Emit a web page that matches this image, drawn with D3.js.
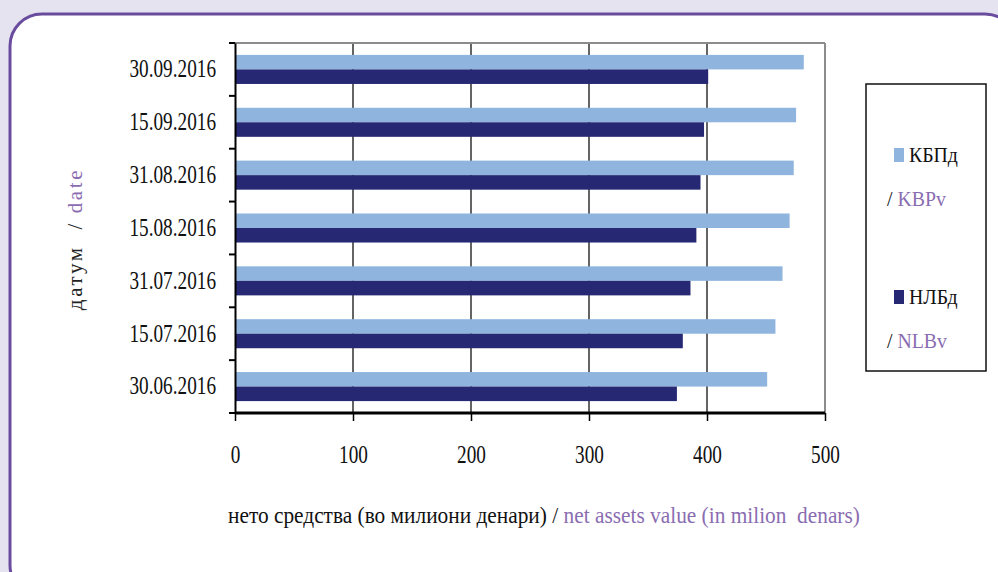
<!DOCTYPE html>
<html><head><meta charset="utf-8">
<script src="https://cdn.jsdelivr.net/npm/d3@7"></script>
<style>
html,body{margin:0;padding:0;background:#e6e3f0;}
svg{display:block;}
text{white-space:pre;}
</style></head>
<body>
<svg id="chart" width="998" height="572"></svg>
<script>
// ---- data ----
const categories = ["30.06.2016","15.07.2016","31.07.2016","15.08.2016","31.08.2016","15.09.2016","30.09.2016"];
const seriesNames = ["КБПд","НЛБд"];
const seriesNamesEn = ["KBPv","NLBv"];
const kbpValues = [451, 458, 464, 470, 473.5, 475.5, 482];
const nlbValues = [374.5, 379.5, 386, 391, 394.5, 397.5, 401];
const xTicks = [0,100,200,300,400,500];

const colors = ["#8fb4de","#262873"];
const purple = "#8a6db1";
const SX = 0.74; // horizontal condensation for serif tick text
const SXT = 0.89; // for axis title
const SXL = 0.9;  // for legend

const svg = d3.select("#chart");

// background panel with rounded border
svg.append("rect").attr("x",0).attr("y",0).attr("width",998).attr("height",572).attr("fill","#e6e3f0");
svg.append("rect").attr("x",10).attr("y",14).attr("width",1007).attr("height",583)
  .attr("rx",32).attr("ry",32).attr("fill","#ffffff").attr("stroke","#6a4c9f").attr("stroke-width",3);

const m = {left:235, right:825, top:43, bottom:413};
const x = d3.scaleLinear().domain([0,500]).range([m.left, m.right]);
const y = d3.scaleBand().domain(categories.slice().reverse()).range([m.top, m.bottom]).padding(0);
const sub = d3.scaleBand().domain(seriesNames).range([0, y.bandwidth()]).paddingInner(0).paddingOuter(0.82);

const rows = categories.map((c,i)=>({cat:c, vals:[kbpValues[i], nlbValues[i]]}));

// gridlines
svg.append("g").selectAll("line").data(xTicks.filter(t=>t>0 && t<500)).join("line")
  .attr("x1",d=>x(d)).attr("x2",d=>x(d)).attr("y1",m.top).attr("y2",m.bottom)
  .attr("stroke","#111").attr("stroke-width",1.3);
// plot border top/right (grey)
svg.append("line").attr("x1",x(0)).attr("x2",x(500)).attr("y1",m.top).attr("y2",m.top).attr("stroke","#8c8c8c").attr("stroke-width",2);
svg.append("line").attr("x1",x(500)).attr("x2",x(500)).attr("y1",m.top).attr("y2",m.bottom).attr("stroke","#8c8c8c").attr("stroke-width",2);

// bars
const g = svg.append("g").selectAll("g").data(rows).join("g")
  .attr("transform",d=>`translate(0,${y(d.cat)})`);
g.selectAll("rect").data(d=>d.vals.map((v,j)=>({v, s:seriesNames[j], j}))).join("rect")
  .attr("x",x(0)).attr("y",d=>sub(d.s)).attr("height",sub.bandwidth())
  .attr("width",d=>x(d.v)-x(0)).attr("fill",d=>colors[d.j]);

function condense(sel, s){
  sel.each(function(){
    const t = d3.select(this);
    const xx = +t.attr("x") || 0;
    t.attr("x", xx/s).attr("transform", `scale(${s},1)`);
  });
}

// y axis
const yAxis = svg.append("g").attr("transform",`translate(${m.left},0)`)
  .call(d3.axisLeft(y).tickSize(0).tickPadding(19));
yAxis.select(".domain").attr("stroke","#000").attr("stroke-width",2);
yAxis.selectAll("text").attr("font-family","'Liberation Serif', serif").attr("font-size",26).attr("fill","#111").attr("dy","0.3em");
condense(yAxis.selectAll("text"), SX);
// y boundary ticks
const bounds = y.domain().map(c=>y(c)).concat([y(y.domain()[y.domain().length-1])+y.bandwidth()]);
svg.append("g").selectAll("line").data(bounds).join("line")
  .attr("x1",m.left-6).attr("x2",m.left).attr("y1",d=>d).attr("y2",d=>d)
  .attr("stroke","#000").attr("stroke-width",2);

// x axis
const xAxis = svg.append("g").attr("transform",`translate(0,${m.bottom})`)
  .call(d3.axisBottom(x).tickValues(xTicks).tickSize(8).tickFormat(d3.format("d")));
xAxis.select(".domain").attr("stroke","#000").attr("stroke-width",3).attr("d",`M${m.left},0H${m.right}`);
xAxis.selectAll(".tick line").attr("stroke","#000").attr("stroke-width",1.5);
xAxis.selectAll("text").attr("font-family","'Liberation Serif', serif").attr("font-size",26).attr("fill","#111")
  .attr("y",42).attr("dy","0.32em");
condense(xAxis.selectAll("text"), SX);

// x axis title
const xt = svg.append("text").attr("x",228/SXT).attr("y",523).attr("transform",`scale(${SXT},1)`)
  .attr("font-family","'Liberation Serif', serif").attr("font-size",24).attr("fill","#111");
xt.append("tspan").text("нето средства (во милиони денари) / ");
xt.append("tspan").attr("fill",purple).text("net assets value (in milion  denars)");

// y axis title
const yt = svg.append("text").attr("transform","translate(82,239) rotate(-90)").attr("text-anchor","middle")
  .attr("font-family","'Liberation Serif', serif").attr("font-size",21).attr("letter-spacing",2.6).attr("fill","#222");
yt.append("tspan").text("датум  / ");
yt.append("tspan").attr("fill",purple).text("date");

// legend
const lg = svg.append("g");
lg.append("rect").attr("x",866).attr("y",84).attr("width",120).attr("height",287)
  .attr("fill","#fff").attr("stroke","#111").attr("stroke-width",1.5);
const legY = [155, 297];
seriesNames.forEach((s,i)=>{
  lg.append("rect").attr("x",894).attr("y",legY[i]-7).attr("width",10).attr("height",14).attr("fill",colors[i]);
  lg.append("text").attr("x",909/SXL).attr("y",legY[i]+7).attr("transform",`scale(${SXL},1)`)
    .attr("font-family","'Liberation Serif', serif").attr("font-size",22).attr("fill","#111").text(s);
  const t2 = lg.append("text").attr("x",887/SXL).attr("y",legY[i]+51).attr("transform",`scale(${SXL},1)`)
    .attr("font-family","'Liberation Serif', serif").attr("font-size",22).attr("fill","#111");
  t2.append("tspan").text("/ ");
  t2.append("tspan").attr("fill",purple).text(seriesNamesEn[i]);
});
</script>
</body></html>
